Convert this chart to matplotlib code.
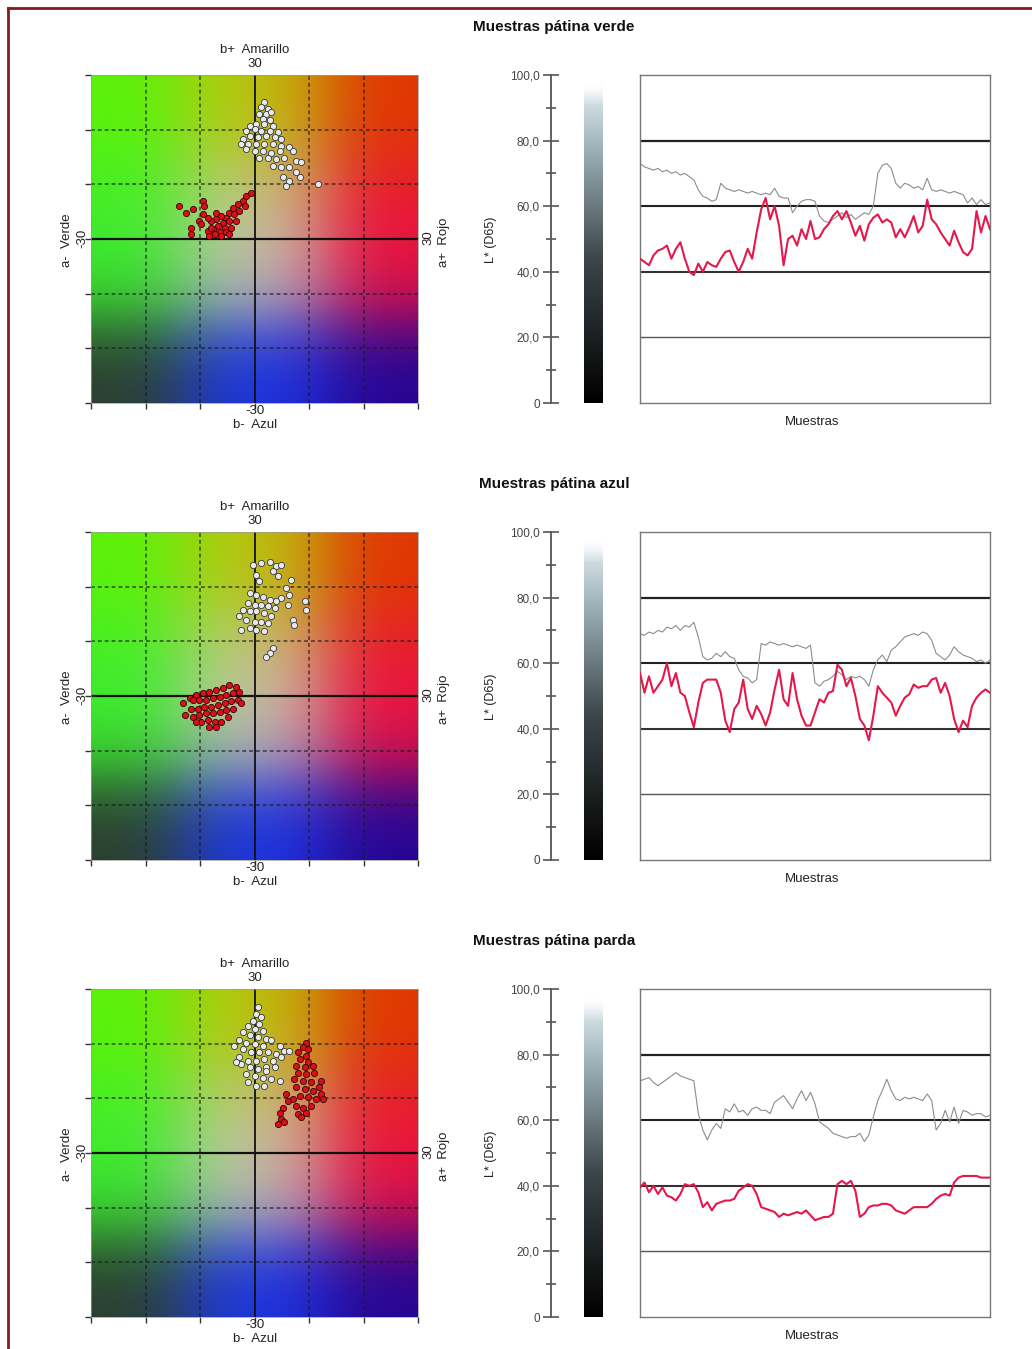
import numpy as np
import matplotlib.pyplot as plt
from matplotlib.colors import LinearSegmentedColormap
from matplotlib.lines import Line2D

W, H = 1032, 1349
plt.rcParams['font.family'] = ['Liberation Sans', 'DejaVu Sans']

titles = ['Muestras pátina verde', 'Muestras pátina azul', 'Muestras pátina parda']

# --- a*/b* scatter data (white = before, red = patina) ---
verde_white_a = [1.8, 1.2, 2.4, 0.9, 2.1, 3.1, 1.5, 2.8, 0.3, 1.8, 3.4, -0.9, -1.5, 0.0, 1.2, 2.8, 4.3,
                 -2.1, -0.9, 0.6, 2.1, 3.7, 4.9, -2.4, -1.2, 0.3, 1.8, 3.4, 4.9, -1.5, 0.0, 1.5, 3.1,
                 4.6, 6.4, 7.0, 0.9, 2.4, 4.0, 5.5, 7.6, 8.6, 3.4, 4.9, 6.4, 7.6, 5.2, 6.4, 5.8, 8.3, 11.6]
verde_white_b = [25.0, 24.1, 23.8, 22.9, 22.9, 23.2, 22.0, 21.7, 21.0, 21.0, 20.7, 20.7, 19.8, 20.1, 19.8,
                 19.8, 19.5, 18.3, 18.9, 18.6, 18.9, 18.6, 18.3, 17.4, 17.4, 17.4, 17.4, 17.4, 17.1, 16.5,
                 16.1, 16.1, 15.8, 16.1, 16.8, 16.1, 14.9, 14.9, 14.6, 14.9, 14.3, 14.0, 13.4, 13.1, 13.1,
                 12.2, 11.3, 10.6, 9.7, 11.3, 10.0]
verde_red_a = [-0.6, -1.5, -2.1, -3.1, -4.0, -1.8, -2.8, -4.6, -3.7, -5.2, -6.1, -7.0, -8.0, -5.8, -4.6,
               -3.4, -6.7, -5.5, -4.3, -7.6, -8.6, -6.4, -5.2, -7.3, -6.1, -8.3, -9.5, -9.2, -11.3, -12.5,
               -13.8, -9.5, -10.1, -11.6, -11.6, -9.8, -8.6, -7.0, -8.0, -4.6]
verde_red_b = [8.5, 7.9, 7.0, 6.4, 5.7, 6.1, 5.1, 4.8, 4.5, 3.9, 4.2, 3.6, 3.3, 3.0, 3.3, 3.3, 2.4, 2.1,
               2.1, 1.8, 1.5, 1.2, 1.2, 0.9, 0.6, 0.6, 7.0, 6.1, 5.4, 4.8, 6.1, 4.5, 3.3, 2.1, 0.9, 2.7,
               3.9, 4.8, 2.1, 0.9]

azul_white_a = [-0.3, 1.2, 2.8, 4.0, 4.9, 3.4, 4.3, 0.3, 0.9, 6.7, 5.8, 6.4, 4.9, 4.0, -0.9, 0.3, 1.5,
                2.8, -1.2, 0.0, 1.2, 2.4, 3.7, -2.1, -0.9, 0.3, 1.8, 3.1, -2.8, -1.5, 0.0, 1.2, 2.4, -0.9,
                -2.4, 0.3, 1.8, 9.2, 9.5, 7.0, 7.3, 3.4, 2.8, 2.1, 6.1]
azul_white_b = [24.0, 24.3, 24.6, 23.7, 24.0, 22.8, 21.9, 22.2, 21.0, 21.3, 19.8, 18.5, 17.9, 17.3, 18.8,
                18.5, 18.2, 17.6, 17.0, 16.7, 16.7, 16.4, 16.1, 15.8, 15.5, 15.5, 15.2, 14.6, 14.6, 13.9,
                13.6, 13.6, 13.3, 12.4, 12.1, 12.1, 11.8, 17.3, 15.8, 13.9, 13.0, 8.7, 7.8, 7.2, 16.7]
azul_red_a = [-4.6, -3.4, -5.8, -7.0, -8.3, -9.5, -10.7, -11.9, -13.1, -11.3, -10.1, -8.9, -7.6, -6.4,
              -5.2, -4.0, -2.8, -3.1, -4.3, -5.5, -6.7, -8.0, -9.2, -10.4, -11.6, -12.8, -11.3, -10.1,
              -8.9, -7.6, -6.4, -5.2, -4.0, -9.8, -8.6, -7.3, -6.1, -7.0, -8.3, -4.9, -10.7, -2.4]
azul_red_b = [2.0, 1.7, 1.4, 1.1, 0.8, 0.5, 0.2, -0.4, -1.3, -0.7, -0.7, -0.7, -0.4, -0.1, 0.2, 0.5, 0.8,
              -0.7, -1.0, -1.3, -1.7, -2.0, -2.0, -2.3, -2.3, -3.5, -3.8, -3.5, -3.2, -3.2, -2.9, -2.6,
              -2.3, -4.7, -4.4, -4.7, -4.7, -5.6, -5.6, -3.8, -4.7, -1.3]

parda_white_a = [0.6, 0.3, 1.2, -0.3, 0.9, -1.2, 0.0, 1.5, -2.1, -0.9, 0.6, 2.1, -2.8, -1.5, 0.0, 1.5,
                 3.1, 4.6, -3.7, -2.1, -0.6, 0.9, 2.4, 4.0, 5.5, 6.4, -2.8, -1.2, 0.3, 1.8, 3.4, 4.9,
                 -2.4, -0.9, 0.6, 2.1, 3.7, -1.5, 0.0, 1.5, 3.1, 4.6, -1.2, 0.3, 1.8, 2.1, -3.4]
parda_white_b = [26.7, 25.4, 24.8, 24.2, 23.6, 23.3, 22.7, 22.4, 22.1, 21.5, 21.2, 20.9, 20.6, 20.2, 19.9,
                 19.6, 20.6, 19.6, 19.6, 19.0, 18.4, 18.4, 18.4, 18.1, 18.7, 18.7, 17.5, 16.9, 16.9, 17.2,
                 16.9, 17.5, 16.3, 15.7, 15.4, 15.7, 15.7, 14.4, 14.1, 13.8, 13.5, 13.2, 12.9, 12.3, 12.3,
                 15.0, 16.6]
parda_red_a = [9.5, 8.9, 9.8, 8.0, 9.5, 8.3, 9.8, 7.6, 9.2, 10.7, 8.0, 9.5, 11.0, 12.2, 7.3, 8.9, 10.4,
               11.9, 7.6, 9.2, 10.7, 12.2, 8.3, 9.8, 11.3, 5.8, 6.1, 5.2, 4.6, 4.9, 4.3, 5.5, 7.6, 8.9,
               10.4, 8.0, 9.5, 8.6, 7.0, 12.5]
parda_red_b = [20.2, 19.3, 19.0, 18.4, 17.8, 17.2, 16.6, 16.0, 15.7, 16.0, 14.7, 14.4, 14.7, 13.2, 13.5,
               13.2, 12.9, 12.0, 12.0, 11.7, 11.4, 10.8, 10.5, 10.2, 9.8, 10.8, 9.5, 8.3, 7.4, 6.2, 5.3,
               5.6, 8.6, 8.3, 8.6, 7.1, 7.4, 6.5, 9.8, 9.8]

# --- L* (D65) per sample ---
verde_L_grey = [73, 72, 71.5, 71, 71.5, 70.5, 71, 70, 70.5, 69.5, 70, 69, 68, 65, 63, 62.5, 61.5, 62, 67,
                65.5, 65, 64.5, 65, 64.5, 64, 64.5, 64, 63.5, 64, 63.5, 65.5, 63, 62.5, 62.5, 58, 60,
                61.5, 62, 62, 61.5, 57, 55.5, 55, 56, 57, 58, 56.5, 57.5, 56, 57, 58, 57.5, 60, 70,
                72.5, 73, 71.5, 67, 65.5, 67, 66.5, 65.5, 66, 65, 68.5, 65, 64.5, 65, 64.5, 64, 64.5,
                64, 63.5, 61, 62.5, 60.5, 62, 60.5, 61]
verde_L_red = [44, 43, 42, 45, 46.5, 47, 48, 44, 47, 49, 44, 40, 39, 42.5, 40, 43, 42, 41.5, 44, 46,
               46.5, 43, 40, 43, 47, 44, 52, 59, 62.5, 56, 60, 54, 42, 50, 51, 48, 53, 50, 55.5, 50,
               50.5, 53, 54.5, 57, 58.5, 56, 58.5, 55, 51, 54, 49.5, 54.5, 56.5, 57.5, 55, 56, 55,
               50.5, 53, 50.5, 53.5, 57, 52, 54, 62, 56, 54.5, 52, 50, 48, 52.5, 49, 46, 45, 47, 58.5,
               52, 57, 53]

azul_L_grey = [69, 68.5, 69.5, 69, 70, 69.5, 71, 70.5, 71.5, 70, 71.5, 71, 72.5, 68, 62, 61, 61.5, 63,
               62, 63.5, 62, 61.5, 58, 56, 55.5, 54, 55, 66, 65.5, 66.5, 66, 65.5, 66, 65.5, 65, 65.5,
               65, 64.5, 65.5, 54, 53, 54.5, 55, 56, 57.5, 56.5, 55, 56, 55.5, 56, 55, 53, 58, 61,
               62.5, 60.5, 64, 65, 66.5, 68, 68.5, 69, 68.5, 69.5, 69, 67, 63, 62, 61, 62.5, 65, 63.5,
               62.5, 62, 61.5, 60.5, 61, 60, 61]
azul_L_red = [57, 51, 56, 51, 53, 55, 60, 53, 57, 51, 50, 45, 40.5, 48, 54, 55, 55, 55, 51, 42.5, 39,
              46, 48, 55, 46, 43, 47, 44.5, 41, 45, 52, 58, 49, 47, 57, 49, 44, 41, 41, 45, 49, 48, 51,
              51.5, 59.5, 58, 53, 55.5, 50, 43, 41, 36.5, 44, 53, 51, 49.5, 48, 44, 47, 49.5, 50.5,
              53.5, 52.5, 53, 53, 55, 55.5, 51, 54, 50, 43, 39, 42.5, 40.5, 47, 49.5, 51, 52, 51]

parda_L_grey = [72, 72.5, 73, 71.5, 70.5, 71.5, 72.5, 73.5, 74.5, 73.5, 73, 72.5, 72, 62, 57, 54, 57,
                59, 57.5, 63.5, 62.5, 65, 62.5, 63, 61.5, 63.5, 64, 63, 63, 62, 65.5, 66.5, 67.5, 65.5,
                63.5, 66.5, 69, 66, 68.5, 65, 59.5, 58.5, 57.5, 56, 55.5, 55, 54.5, 55, 55, 56, 53.5,
                55.5, 61, 66, 69, 72.5, 69, 66.5, 66, 67, 66.5, 67, 66.5, 66, 68, 66, 57, 59, 63, 59.5,
                64, 59, 63, 62.5, 61.5, 62, 62, 61, 61.5]
parda_L_red = [39.5, 41, 38, 40, 37.5, 39.5, 37, 36.5, 35.5, 37.5, 40.5, 40, 40.5, 38, 33.5, 35, 32.5,
               34.5, 35, 35.5, 35.5, 36, 38.5, 39.5, 40.5, 40, 37.5, 33.5, 33, 32.5, 32, 30.5, 31.5,
               31, 31.5, 32, 31.5, 32.5, 31, 29.5, 30, 30.5, 30.5, 31.5, 40.5, 41.5, 40.5, 41.5, 38.5,
               30.5, 31.5, 33.5, 34, 34, 34.5, 34.5, 34, 32.5, 32, 31.5, 32.5, 33.5, 33.5, 33.5, 33.5,
               34.5, 36, 37, 37.5, 37, 41, 42.5, 43, 43, 43, 43, 42.5, 42.5, 42.5]

panels = [
    (titles[0], verde_white_a, verde_white_b, verde_red_a, verde_red_b, verde_L_grey, verde_L_red),
    (titles[1], azul_white_a, azul_white_b, azul_red_a, azul_red_b, azul_L_grey, azul_L_red),
    (titles[2], parda_white_a, parda_white_b, parda_red_a, parda_red_b, parda_L_grey, parda_L_red),
]


def rect(x0, y0, x1, y1):
    return [x0 / W, 1 - y1 / H, (x1 - x0) / W, (y1 - y0) / H]


def ftext(fig, x, y, s, **kw):
    kw.setdefault('ha', 'center')
    kw.setdefault('va', 'center')
    fig.text(x / W, 1 - y / H, s, **kw)


def bump_weights(u, s_lo, s_mid, s_hi):
    w = np.stack([np.exp(-((u + 1) / s_lo) ** 2),
                  np.exp(-(u / s_mid) ** 2),
                  np.exp(-((u - 1) / s_hi) ** 2)], axis=1)
    return w / w.sum(axis=1, keepdims=True)


def ab_background(n=240):
    # 3x3 control colours of the a*/b* plane (rows: b = -30, 0, +30; cols: a = -30, 0, +30)
    ctrl = np.array([
        [[0.17, 0.24, 0.19], [0.09, 0.22, 1.00], [0.14, 0.02, 0.58]],
        [[0.22, 0.93, 0.20], [0.84, 0.82, 0.86], [0.93, 0.05, 0.28]],
        [[0.36, 0.95, 0.04], [0.76, 0.80, 0.05], [0.88, 0.22, 0.00]],
    ])
    u = np.linspace(-1, 1, n)
    wa = bump_weights(u, 0.75, 0.45, 0.75)
    wb = bump_weights(u, 0.55, 0.50, 0.80)
    img = np.einsum('ri,cj,ijk->rck', wb, wa, ctrl)
    return np.clip(img, 0, 1)


bg = ab_background()
bar_cmap = LinearSegmentedColormap.from_list(
    'lbar', [(0, '#000000'), (0.45, '#3d4649'), (0.8, '#9fb5bb'), (0.95, '#d7e3e7'), (1, '#ffffff')])

fig = plt.figure(figsize=(W / 100, H / 100), dpi=100)

for k, (title, wa, wb, ra, rb, lg, lr) in enumerate(panels):
    off = 457 * k
    ftext(fig, 554, 27 + off, title, fontsize=11, fontweight='bold', color='#111111')

    # colour square
    ax = fig.add_axes(rect(91, 75 + off, 418, 403 + off))
    ax.imshow(bg, extent=[-30, 30, -30, 30], origin='lower', aspect='auto', interpolation='bilinear')
    for v in [-20, -10, 10, 20]:
        ax.axvline(v, color='#1a1a1a', lw=1.1, ls=(0, (2.5, 2)), alpha=0.75)
        ax.axhline(v, color='#1a1a1a', lw=1.1, ls=(0, (2.5, 2)), alpha=0.75)
    ax.axvline(0, color='#111111', lw=1.3)
    ax.axhline(0, color='#111111', lw=1.6)
    ax.scatter(wa, wb, s=20, c='#e6eaee', edgecolors='#3a3a3a', linewidths=0.6, zorder=3)
    ax.scatter(ra, rb, s=20, c='#d8101a', edgecolors='#3a0000', linewidths=0.6, zorder=4)
    ax.set_xlim(-30, 30)
    ax.set_ylim(-30, 30)
    ax.set_xticks(range(-30, 31, 10))
    ax.set_yticks(range(-30, 31, 10))
    ax.set_xticklabels([])
    ax.set_yticklabels([])
    ax.tick_params(direction='out', length=4, width=1, colors='#333333')
    for sp in ax.spines.values():
        sp.set_color('#999999')
        sp.set_linewidth(0.5)

    ftext(fig, 255, 50 + off, 'b+  Amarillo', fontsize=9.5, color='#222222')
    ftext(fig, 255, 64 + off, '30', fontsize=9.5, color='#222222')
    ftext(fig, 255, 411 + off, '-30', fontsize=9.5, color='#222222')
    ftext(fig, 255, 425 + off, 'b-  Azul', fontsize=9.5, color='#222222')
    ftext(fig, 67, 240 + off, 'a-  Verde', fontsize=9.5, color='#222222', rotation=90)
    ftext(fig, 82, 238 + off, '-30', fontsize=9.5, color='#222222', rotation=90)
    ftext(fig, 428, 238 + off, '30', fontsize=9.5, color='#222222', rotation=90)
    ftext(fig, 444, 242 + off, 'a+  Rojo', fontsize=9.5, color='#222222', rotation=90)

    # L* axis
    axl = fig.add_axes(rect(551, 75 + off, 560, 403 + off))
    axl.set_ylim(0, 100)
    axl.set_xlim(0, 1)
    axl.set_yticks(range(0, 101, 20))
    axl.set_yticklabels(['0', '20,0', '40,0', '60,0', '80,0', '100,0'])
    axl.set_yticks(range(10, 100, 20), minor=True)
    axl.set_xticks([])
    axl.tick_params(axis='y', which='major', direction='inout', length=12, width=1.2,
                    colors='#555555', labelsize=8.5, labelcolor='#444444', pad=2)
    axl.tick_params(axis='y', which='minor', direction='inout', length=7, width=1.2, colors='#555555')
    for name in ['right', 'top', 'bottom']:
        axl.spines[name].set_visible(False)
    axl.spines['left'].set_color('#555555')
    axl.spines['left'].set_linewidth(1.3)
    axl.patch.set_alpha(0)
    ftext(fig, 491, 240 + off, 'L* (D65)', fontsize=9, color='#222222', rotation=90)

    # grey bar
    axb = fig.add_axes(rect(584, 82 + off, 603, 403 + off))
    grad = bar_cmap(np.linspace(0, 1, 256))[:, None, :].repeat(2, axis=1)
    grad[-20:, :, 3] = np.linspace(1, 0, 20)[:, None]
    axb.imshow(grad, origin='lower', aspect='auto', extent=[0, 1, 0, 1])
    axb.axis('off')

    # L* per sample
    axc = fig.add_axes(rect(640, 75 + off, 990, 403 + off))
    for v, lw, col in [(20, 1.0, '#555555'), (40, 1.5, '#333333'), (60, 1.5, '#222222'), (80, 1.6, '#222222')]:
        axc.axhline(v, color=col, lw=lw, zorder=1)
    axc.plot(range(len(lg)), lg, color='#8c8c8c', lw=0.8, zorder=2)
    axc.plot(range(len(lr)), lr, color='#e5184c', lw=1.5, zorder=3)
    axc.set_xlim(0, len(lr) - 1)
    axc.set_ylim(0, 100)
    axc.set_xticks([])
    axc.set_yticks([])
    for sp in axc.spines.values():
        sp.set_color('#777777')
        sp.set_linewidth(1.0)
    ftext(fig, 812, 422 + off, 'Muestras', fontsize=9.5, color='#222222')

# page frame
fig.add_artist(Line2D([8 / W, 8 / W], [1 - 8 / H, 0], color='#8b1a1a', lw=2))
fig.add_artist(Line2D([8 / W, 1], [1 - 8 / H, 1 - 8 / H], color='#8b1a1a', lw=2))

fig.savefig('out.png', dpi=100, facecolor='white')
